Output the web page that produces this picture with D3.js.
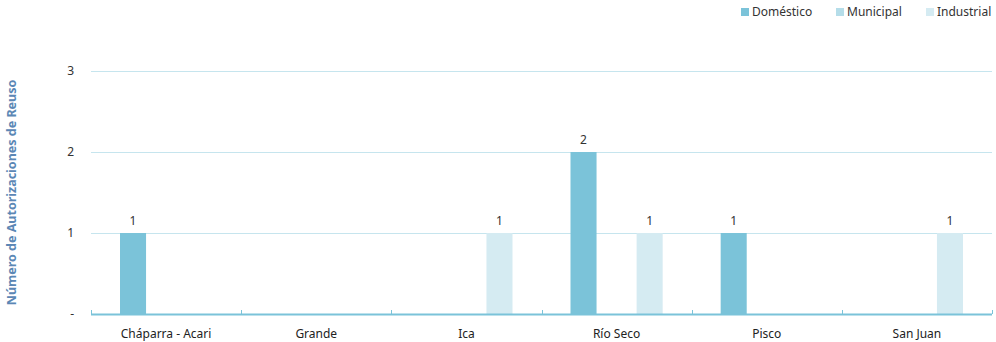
<!DOCTYPE html>
<html>
<head>
<meta charset="utf-8">
<script src="https://cdn.jsdelivr.net/npm/d3@7"></script>
<style>
  body { margin: 0; background: #fff; }
  svg text { font-family: "Noto Sans", "Open Sans", sans-serif; }
</style>
</head>
<body>
<div id="chart"></div>
<script>
var categories = ["Cháparra - Acari", "Grande", "Ica", "Río Seco", "Pisco", "San Juan"];
var seriesNames = ["Doméstico", "Municipal", "Industrial"];
var domestico = [1, 0, 0, 2, 1, 0];
var municipal = [0, 0, 0, 0, 0, 0];
var industrial = [0, 0, 1, 1, 0, 1];
var yTicks = [0, 1, 2, 3];
var colors = ["#7bc3d9", "#b5dde9", "#d5ebf2"];

var width = 996, height = 342;
var margin = { left: 91, right: 4, top: 71, bottom: 28 };

var svg = d3.select("#chart")
    .append("svg")
    .attr("width", width)
    .attr("height", height);

var x = d3.scaleBand()
    .domain(categories)
    .range([margin.left, width - margin.right]);

var y = d3.scaleLinear()
    .domain([0, 3])
    .range([height - margin.bottom, margin.top]);

// bar slots inside each band: 26px bars, 7px gaps, centred
var x1 = d3.scaleBand()
    .domain(seriesNames)
    .range([29, x.bandwidth() - 29])
    .paddingInner(0.212);

// gridlines
svg.selectAll(".grid")
    .data(yTicks.filter(function(d) { return d > 0; }))
    .enter().append("line")
    .attr("x1", margin.left)
    .attr("x2", width - margin.right)
    .attr("y1", function(d) { return Math.round(y(d)) + 0.5; })
    .attr("y2", function(d) { return Math.round(y(d)) + 0.5; })
    .attr("stroke", "#c6e5ee")
    .attr("stroke-width", 1);

// y tick labels
svg.selectAll(".ylab")
    .data(yTicks)
    .enter().append("text")
    .attr("x", 74)
    .attr("y", function(d) { return y(d) + 4; })
    .attr("text-anchor", "end")
    .attr("font-size", 12)
    .attr("fill", "#333")
    .text(function(d) { return d === 0 ? "-" : d; });

// y axis title
svg.append("text")
    .attr("transform", "translate(16," + (y(1.5)) + ") rotate(-90)")
    .attr("text-anchor", "middle")
    .attr("font-size", 12.5)
    .attr("font-weight", "bold")
    .attr("fill", "#5b87b5")
    .text("Número de Autorizaciones de Reuso");

var series = [domestico, municipal, industrial];
var data = [];
categories.forEach(function(c, i) {
    seriesNames.forEach(function(s, j) {
        data.push({ cat: c, name: s, value: series[j][i], color: colors[j] });
    });
});

var bars = data.filter(function(d) { return d.value > 0; });

svg.selectAll(".bar")
    .data(bars)
    .enter().append("rect")
    .attr("class", "bar")
    .attr("x", function(d) { return x(d.cat) + x1(d.name); })
    .attr("y", function(d) { return y(d.value); })
    .attr("width", x1.bandwidth())
    .attr("height", function(d) { return y(0) - y(d.value); })
    .attr("fill", function(d) { return d.color; });

svg.selectAll(".val")
    .data(bars)
    .enter().append("text")
    .attr("x", function(d) { return x(d.cat) + x1(d.name) + x1.bandwidth() / 2; })
    .attr("y", function(d) { return y(d.value) - 8; })
    .attr("text-anchor", "middle")
    .attr("font-size", 12)
    .attr("fill", "#333")
    .text(function(d) { return d.value; });

// x axis line and ticks
var base = y(0);
svg.append("line")
    .attr("x1", margin.left)
    .attr("x2", width - margin.right)
    .attr("y1", base + 0.5)
    .attr("y2", base + 0.5)
    .attr("stroke", "#7bc3d9")
    .attr("stroke-width", 2);

var tickX = categories.map(function(c) { return x(c); }).concat([width - margin.right]);
svg.selectAll(".xtick")
    .data(tickX)
    .enter().append("line")
    .attr("x1", function(d) { return Math.round(d) + 0.5; })
    .attr("x2", function(d) { return Math.round(d) + 0.5; })
    .attr("y1", base - 4)
    .attr("y2", base)
    .attr("stroke", "#7bc3d9");

svg.selectAll(".xlab")
    .data(categories)
    .enter().append("text")
    .attr("x", function(d) { return x(d) + x.bandwidth() / 2; })
    .attr("y", base + 24)
    .attr("text-anchor", "middle")
    .attr("font-size", 12)
    .attr("fill", "#222")
    .text(function(d) { return d; });

// legend
var legendX = [741, 836, 926];
var legend = svg.selectAll(".legend")
    .data(seriesNames)
    .enter().append("g")
    .attr("transform", function(d, i) { return "translate(" + legendX[i] + ",8)"; });

legend.append("rect")
    .attr("width", 8)
    .attr("height", 8)
    .attr("fill", function(d, i) { return colors[i]; });

legend.append("text")
    .attr("x", 11)
    .attr("y", 8)
    .attr("font-size", 12)
    .attr("fill", "#333")
    .text(function(d) { return d; });
</script>
</body>
</html>
